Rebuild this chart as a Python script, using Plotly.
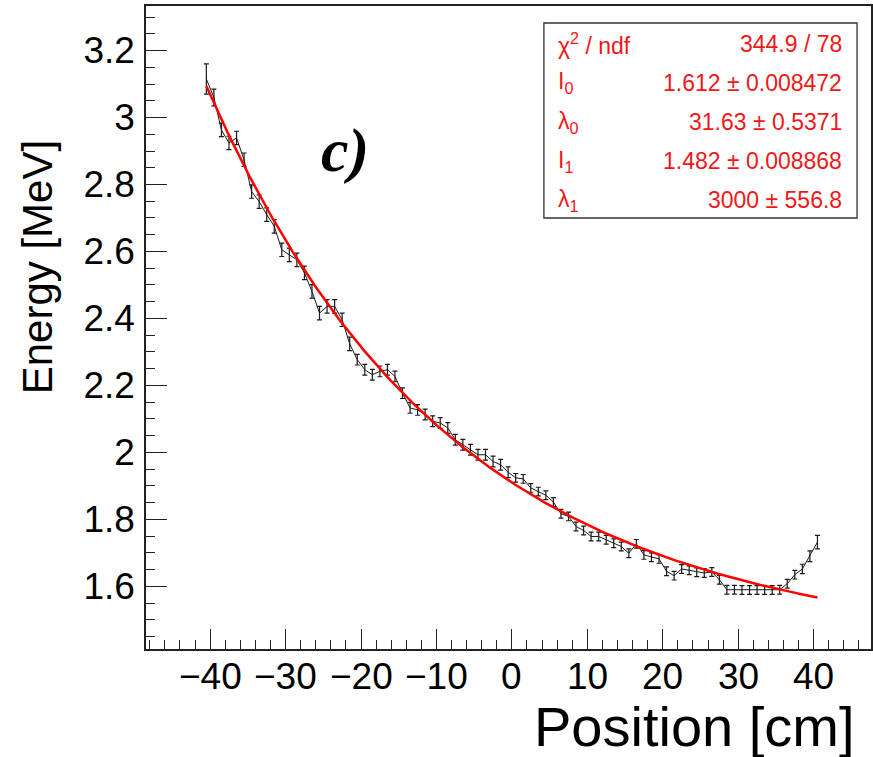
import numpy as np
import plotly.graph_objects as go

# ---------------- data ----------------
position_cm = [-40.5, -39.5, -38.5, -37.5, -36.5, -35.5, -34.5, -33.5, -32.5, -31.5,
               -30.5, -29.5, -28.5, -27.5, -26.5, -25.5, -24.5, -23.5, -22.5, -21.5,
               -20.5, -19.5, -18.5, -17.5, -16.5, -15.5, -14.5, -13.5, -12.5, -11.5,
               -10.5, -9.5, -8.5, -7.5, -6.5, -5.5, -4.5, -3.5, -2.5, -1.5,
               -0.5, 0.5, 1.5, 2.5, 3.5, 4.5, 5.5, 6.5, 7.5, 8.5,
               9.5, 10.5, 11.5, 12.5, 13.5, 14.5, 15.5, 16.5, 17.5, 18.5,
               19.5, 20.5, 21.5, 22.5, 23.5, 24.5, 25.5, 26.5, 27.5, 28.5,
               29.5, 30.5, 31.5, 32.5, 33.5, 34.5, 35.5, 36.5, 37.5, 38.5,
               39.5, 40.5]

energy_mev = [3.115, 3.060, 2.963, 2.924, 2.939, 2.874, 2.779, 2.749, 2.710, 2.675,
              2.605, 2.590, 2.575, 2.536, 2.481, 2.416, 2.436, 2.436, 2.396, 2.324,
              2.277, 2.247, 2.232, 2.242, 2.247, 2.227, 2.177, 2.133, 2.127, 2.113,
              2.093, 2.088, 2.073, 2.038, 2.023, 2.008, 1.993, 1.993, 1.973, 1.963,
              1.941, 1.924, 1.921, 1.894, 1.883, 1.872, 1.852, 1.817, 1.809, 1.779,
              1.767, 1.749, 1.749, 1.739, 1.729, 1.719, 1.699, 1.727, 1.694, 1.687,
              1.682, 1.645, 1.632, 1.652, 1.648, 1.642, 1.640, 1.643, 1.620, 1.590,
              1.590, 1.589, 1.589, 1.589, 1.589, 1.589, 1.590, 1.608, 1.635, 1.652,
              1.690, 1.732]

energy_err = [0.045, 0.025, 0.020, 0.020, 0.020, 0.020, 0.020, 0.020, 0.020, 0.020,
              0.020, 0.020, 0.020, 0.020, 0.020, 0.020, 0.020, 0.020, 0.020, 0.020,
              0.016, 0.016, 0.016, 0.016, 0.016, 0.016, 0.016, 0.016, 0.016, 0.016,
              0.016, 0.016, 0.016, 0.016, 0.016, 0.016, 0.016, 0.016, 0.016, 0.016,
              0.016, 0.013, 0.013, 0.013, 0.013, 0.013, 0.013, 0.013, 0.013, 0.013,
              0.013, 0.013, 0.013, 0.013, 0.013, 0.013, 0.013, 0.013, 0.013, 0.013,
              0.013, 0.013, 0.013, 0.013, 0.013, 0.013, 0.013, 0.013, 0.013, 0.013,
              0.013, 0.013, 0.013, 0.013, 0.013, 0.013, 0.013, 0.013, 0.013, 0.014,
              0.016, 0.020]

# fit parameters shown in the stats box
fit_I0 = 1.612
fit_lambda0 = 31.63
fit_I1 = 1.482
fit_lambda1 = 3000.0
fit_x_start = -40.5

stat_labels = ["χ<sup>2</sup> / ndf", "I<sub>0</sub>", "λ<sub>0</sub>",
               "I<sub>1</sub>", "λ<sub>1</sub>"]
stat_values = ["344.9 / 78", "1.612 ± 0.008472", "31.63 ± 0.5371",
               "1.482 ± 0.008868", "3000 ± 556.8"]

x_tick_vals = [-40, -30, -20, -10, 0, 10, 20, 30, 40]
x_tick_text = ["\u221240", "\u221230", "\u221220", "\u221210", "0", "10", "20", "30", "40"]
y_tick_vals = [1.6, 1.8, 2.0, 2.2, 2.4, 2.6, 2.8, 3.0, 3.2]
y_tick_text = ["1.6", "1.8", "2", "2.2", "2.4", "2.6", "2.8", "3", "3.2"]

# fitted model evaluated from the displayed parameters
fit_x = np.linspace(position_cm[0], position_cm[-1], 400)
fit_y = (fit_I0 * np.exp(-(fit_x - fit_x_start) / fit_lambda0)
         + fit_I1 * np.exp(-(fit_x - fit_x_start) / fit_lambda1))

# ---------------- layout geometry ----------------
W, H = 873, 757
L, R, T, B = 146, 873, 6, 649


def pxx(x):
    return (x - L) / (R - L)


def pxy(y):
    return (B - y) / (B - T)


FONT = "Liberation Sans, Arial, Helvetica, sans-serif"
RED = "#f01818"

fig = go.Figure()
fig.add_trace(go.Scatter(
    x=position_cm, y=energy_mev, mode="lines",
    line=dict(color="#1a1a1a", width=1),
    error_y=dict(type="data", array=energy_err, color="#1a1a1a",
                 thickness=1.2, width=2.5),
    hoverinfo="skip", showlegend=False))
fig.add_trace(go.Scatter(
    x=fit_x, y=fit_y, mode="lines",
    line=dict(color="#ff0000", width=2.5),
    hoverinfo="skip", showlegend=False))

axis_common = dict(
    showgrid=False, zeroline=False, showline=True, linecolor="#222",
    linewidth=1.5, mirror=True, ticks="inside", tickcolor="#222",
    tickwidth=1.2, tickfont=dict(family=FONT, size=37, color="black"),
)

fig.update_xaxes(
    range=[-48.5, 47.6], tickvals=x_tick_vals, ticklen=20,
    showticklabels=False,
    minor=dict(ticks="inside", ticklen=9, dtick=2, tick0=0,
               tickcolor="#222", tickwidth=1.2, showgrid=False),
    **axis_common)
fig.update_yaxes(
    range=[1.413, 3.333], tickvals=y_tick_vals, ticktext=y_tick_text,
    ticklen=21, ticklabelstandoff=2,
    minor=dict(ticks="inside", ticklen=9, dtick=0.05, tick0=0,
               tickcolor="#222", tickwidth=1.2, showgrid=False),
    **axis_common)

annotations = []
# x tick labels placed on the x axis scale
for tv, tt in zip(x_tick_vals, x_tick_text):
    annotations.append(dict(xref="x", yref="paper", x=tv, y=pxy(676),
                            xanchor="center", yanchor="middle", text=tt,
                            showarrow=False,
                            font=dict(family=FONT, size=37, color="black")))
# stats box text
row_y = [44, 83, 122, 161, 200]
for lab, val, yy in zip(stat_labels, stat_values, row_y):
    annotations.append(dict(xref="paper", yref="paper", x=pxx(557), y=pxy(yy),
                            xanchor="left", yanchor="middle", text=lab,
                            showarrow=False,
                            font=dict(family=FONT, size=23, color=RED)))
    annotations.append(dict(xref="paper", yref="paper", x=pxx(846), y=pxy(yy),
                            xanchor="right", yanchor="middle", text=val,
                            showarrow=False,
                            font=dict(family=FONT, size=23, color=RED)))
# panel label
annotations.append(dict(xref="paper", yref="paper", x=pxx(346), y=pxy(151),
                        xanchor="center", yanchor="middle",
                        text="<b><i>c)</i></b>", showarrow=False,
                        font=dict(family="Liberation Serif, Times New Roman, serif",
                                  size=62, color="black")))
# axis titles (ROOT style: aligned to the axis end)
annotations.append(dict(xref="paper", yref="paper", x=pxx(859), y=pxy(726),
                        xanchor="right", yanchor="middle", text="Position [cm]",
                        showarrow=False,
                        font=dict(family=FONT, size=56, color="black")))
annotations.append(dict(xref="paper", yref="paper", x=pxx(37), y=pxy(138),
                        xanchor="center", yanchor="top", text="Energy [MeV]",
                        textangle=-90, showarrow=False,
                        font=dict(family=FONT, size=42, color="black")))

fig.update_layout(
    width=W, height=H,
    margin=dict(l=L, r=W - R, t=T, b=H - B, pad=0),
    plot_bgcolor="white", paper_bgcolor="white",
    showlegend=False,
    annotations=annotations,
    shapes=[dict(type="rect", xref="paper", yref="paper",
                 x0=pxx(545), x1=pxx(859), y0=pxy(218), y1=pxy(23),
                 line=dict(color="#333", width=1.3), fillcolor="white",
                 layer="above")],
)

fig.write_html("out.html")
